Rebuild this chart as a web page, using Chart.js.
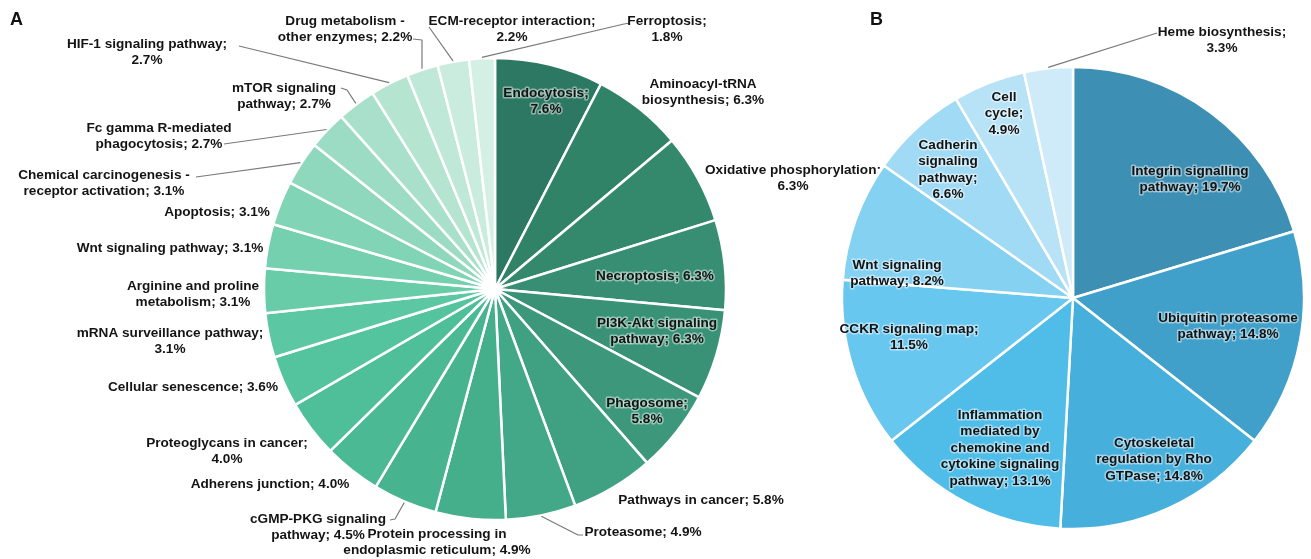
<!DOCTYPE html>
<html>
<head>
<meta charset="utf-8">
<script src="https://cdn.jsdelivr.net/npm/chart.js@4.4.1/dist/chart.umd.min.js"></script>
<style>
  body { margin: 0; background: #fff; width: 1311px; height: 559px; overflow: hidden; position: relative; }
  canvas { position: absolute; top: 0; }
  #chartA { left: 0; }
  #chartB { left: 830px; }
</style>
</head>
<body>
<canvas id="chartA" width="910" height="559"></canvas>
<canvas id="chartB" width="481" height="559"></canvas>
<script>
const keggLabels = [
  "Endocytosis", "Aminoacyl-tRNA biosynthesis", "Oxidative phosphorylation", "Necroptosis",
  "PI3K-Akt signaling pathway", "Phagosome", "Pathways in cancer", "Proteasome",
  "Protein processing in endoplasmic reticulum", "cGMP-PKG signaling pathway", "Adherens junction",
  "Proteoglycans in cancer", "Cellular senescence", "mRNA surveillance pathway",
  "Arginine and proline metabolism", "Wnt signaling pathway", "Apoptosis",
  "Chemical carcinogenesis - receptor activation", "Fc gamma R-mediated phagocytosis",
  "mTOR signaling pathway", "HIF-1 signaling pathway", "Drug metabolism - other enzymes",
  "ECM-receptor interaction", "Ferroptosis",
];
const keggValues = [7.6, 6.3, 6.3, 6.3, 6.3, 5.8, 5.8, 4.9, 4.9, 4.5, 4.0, 4.0, 3.6, 3.1, 3.1, 3.1, 3.1, 3.1, 2.7, 2.7, 2.7, 2.2, 2.2, 1.8];

const pantherLabels = [
  "Integrin signalling pathway", "Ubiquitin proteasome pathway", "Cytoskeletal regulation by Rho GTPase",
  "Inflammation mediated by chemokine and cytokine signaling pathway", "CCKR signaling map",
  "Wnt signaling pathway", "Cadherin signaling pathway", "Cell cycle", "Heme biosynthesis",
];
const pantherValues = [19.7, 14.8, 14.8, 13.1, 11.5, 8.2, 6.6, 4.9, 3.3];

const greens = [
  "#2d7862", "#318368", "#34896d", "#378e72", "#3a9276", "#3d977a", "#40a082", "#43a887",
  "#45ae8b", "#47b48f", "#4ab994", "#4ebf99", "#53c49d", "#5cc8a3", "#68cca9", "#75d0b0",
  "#82d4b7", "#8fd8bd", "#9cdcc4", "#a9e0cb", "#b5e4d1", "#c0e8d8", "#caecde", "#d4f0e5",
];
const blues = ["#3d8fb4", "#41a0c9", "#47afdb", "#4fbde8", "#67c7ef", "#85d1f2", "#a1daf4", "#b8e3f7", "#cfeaf8"];

// label layout in page pixels: text lines, centre x, first line y, leader start points
const layoutA = [
  { i: 0, lines: ["Endocytosis;", "7.6%"], x: 546, y: 93, halo: true },
  { i: 1, lines: ["Aminoacyl-tRNA", "biosynthesis; 6.3%"], x: 703, y: 84 },
  { i: 2, lines: ["Oxidative phosphorylation;", "6.3%"], x: 793, y: 170 },
  { i: 3, lines: ["Necroptosis; 6.3%"], x: 655, y: 276, halo: true },
  { i: 4, lines: ["PI3K-Akt signaling", "pathway; 6.3%"], x: 657, y: 323, halo: true },
  { i: 5, lines: ["Phagosome;", "5.8%"], x: 647, y: 403, halo: true },
  { i: 6, lines: ["Pathways in cancer; 5.8%"], x: 701, y: 500 },
  { i: 7, lines: ["Proteasome; 4.9%"], x: 643, y: 532, lead: [[583, 535], [578, 535]] },
  { i: 8, lines: ["Protein processing in", "endoplasmic reticulum; 4.9%"], x: 437, y: 534 },
  { i: 9, lines: ["cGMP-PKG signaling", "pathway; 4.5%"], x: 318, y: 519, lead: [[390, 520], [395, 519]] },
  { i: 10, lines: ["Adherens junction; 4.0%"], x: 270, y: 484 },
  { i: 11, lines: ["Proteoglycans in cancer;", "4.0%"], x: 227, y: 443 },
  { i: 12, lines: ["Cellular senescence; 3.6%"], x: 193, y: 387 },
  { i: 13, lines: ["mRNA surveillance pathway;", "3.1%"], x: 170, y: 333 },
  { i: 14, lines: ["Arginine and proline", "metabolism; 3.1%"], x: 193, y: 286 },
  { i: 15, lines: ["Wnt signaling pathway; 3.1%"], x: 170, y: 248 },
  { i: 16, lines: ["Apoptosis; 3.1%"], x: 217, y: 212 },
  { i: 17, lines: ["Chemical carcinogenesis -", "receptor activation; 3.1%"], x: 104, y: 175, lead: [[196, 177]] },
  { i: 18, lines: ["Fc gamma R-mediated", "phagocytosis; 2.7%"], x: 159, y: 128, lead: [[224, 144]] },
  { i: 19, lines: ["mTOR signaling", "pathway; 2.7%"], x: 284, y: 88, lead: [[341, 88], [347, 90]] },
  { i: 20, lines: ["HIF-1 signaling pathway;", "2.7%"], x: 147, y: 44, lead: [[239, 46]] },
  { i: 21, lines: ["Drug metabolism -", "other enzymes; 2.2%"], x: 345, y: 21, lead: [[413, 39], [422, 40]] },
  { i: 22, lines: ["ECM-receptor interaction;", "2.2%"], x: 512, y: 21, lead: [[429, 27]] },
  { i: 23, lines: ["Ferroptosis;", "1.8%"], x: 667, y: 21, lead: [[630, 23], [624, 24]] },
];
const layoutB = [
  { i: 0, lines: ["Integrin signalling", "pathway; 19.7%"], x: 1190, y: 171, halo: true },
  { i: 1, lines: ["Ubiquitin proteasome", "pathway; 14.8%"], x: 1228, y: 318, halo: true },
  { i: 2, lines: ["Cytoskeletal", "regulation by Rho", "GTPase; 14.8%"], x: 1154, y: 443, halo: true },
  { i: 3, lines: ["Inflammation", "mediated by", "chemokine and", "cytokine signaling", "pathway; 13.1%"], x: 1000, y: 415, halo: true },
  { i: 4, lines: ["CCKR signaling map;", "11.5%"], x: 909, y: 329, halo: true },
  { i: 5, lines: ["Wnt signaling", "pathway; 8.2%"], x: 897, y: 265, halo: true },
  { i: 6, lines: ["Cadherin", "signaling", "pathway;", "6.6%"], x: 948, y: 145, halo: true },
  { i: 7, lines: ["Cell", "cycle;", "4.9%"], x: 1004, y: 97, halo: true },
  { i: 8, lines: ["Heme biosynthesis;", "3.3%"], x: 1222, y: 32, lead: [[1157, 33]] },
];

const labelPlugin = (layout, offsetX, letter) => ({
  id: "pieLabels",
  afterDatasetsDraw(chart) {
    const ctx = chart.ctx;
    const arcs = chart.getDatasetMeta(0).data;
    ctx.save();
    ctx.font = "bold 13.6px 'Liberation Sans', Arial, sans-serif";
    ctx.textAlign = "center";
    ctx.textBaseline = "middle";
    ctx.lineJoin = "round";
    for (const item of layout) {
      if (item.lead) {
        const arc = arcs[item.i];
        const mid = (arc.startAngle + arc.endAngle) / 2;
        const r = arc.outerRadius + 1;
        ctx.beginPath();
        ctx.strokeStyle = "#7a7a7a";
        ctx.lineWidth = 1.2;
        item.lead.forEach(([px, py], k) => {
          if (k === 0) ctx.moveTo(px - offsetX, py);
          else ctx.lineTo(px - offsetX, py);
        });
        ctx.lineTo(arc.x + Math.cos(mid) * r, arc.y + Math.sin(mid) * r);
        ctx.stroke();
      }
      item.lines.forEach((line, k) => {
        const tx = item.x - offsetX;
        const ty = item.y + k * 16.5;
        if (item.halo) {
          ctx.strokeStyle = "rgba(255,255,255,0.45)";
          ctx.lineWidth = 3;
          ctx.strokeText(line, tx, ty);
        }
        ctx.fillStyle = "#141414";
        ctx.fillText(line, tx, ty);
      });
    }
    ctx.font = "bold 18px 'Liberation Sans', Arial, sans-serif";
    ctx.textAlign = "left";
    ctx.fillStyle = "#111";
    ctx.fillText(letter.text, letter.x - offsetX, letter.y);
    ctx.restore();
  },
});

const makePie = (id, labels, values, colors, padding, radius, plugin) =>
  new Chart(document.getElementById(id).getContext("2d"), {
    type: "pie",
    data: {
      labels: labels,
      datasets: [
        {
          data: values,
          backgroundColor: colors,
          borderColor: "#ffffff",
          borderWidth: 2.5,
        },
      ],
    },
    options: {
      responsive: false,
      animation: false,
      devicePixelRatio: 1,
      radius: radius,
      layout: { padding: padding },
      plugins: {
        legend: { display: false },
        tooltip: { enabled: false },
      },
    },
    plugins: [plugin],
  });

// pie A centred at (495, 289), pie B centred at (1073, 298) in page pixels
makePie("chartA", keggLabels, keggValues, greens, { left: 235, right: 155, top: 29, bottom: 10 }, 231,
  labelPlugin(layoutA, 0, { text: "A", x: 10, y: 20 }));
makePie("chartB", pantherLabels, pantherValues, blues, { left: 8, right: 3, top: 63, bottom: 26 }, 231,
  labelPlugin(layoutB, 830, { text: "B", x: 870, y: 20 }));
</script>
</body>
</html>
